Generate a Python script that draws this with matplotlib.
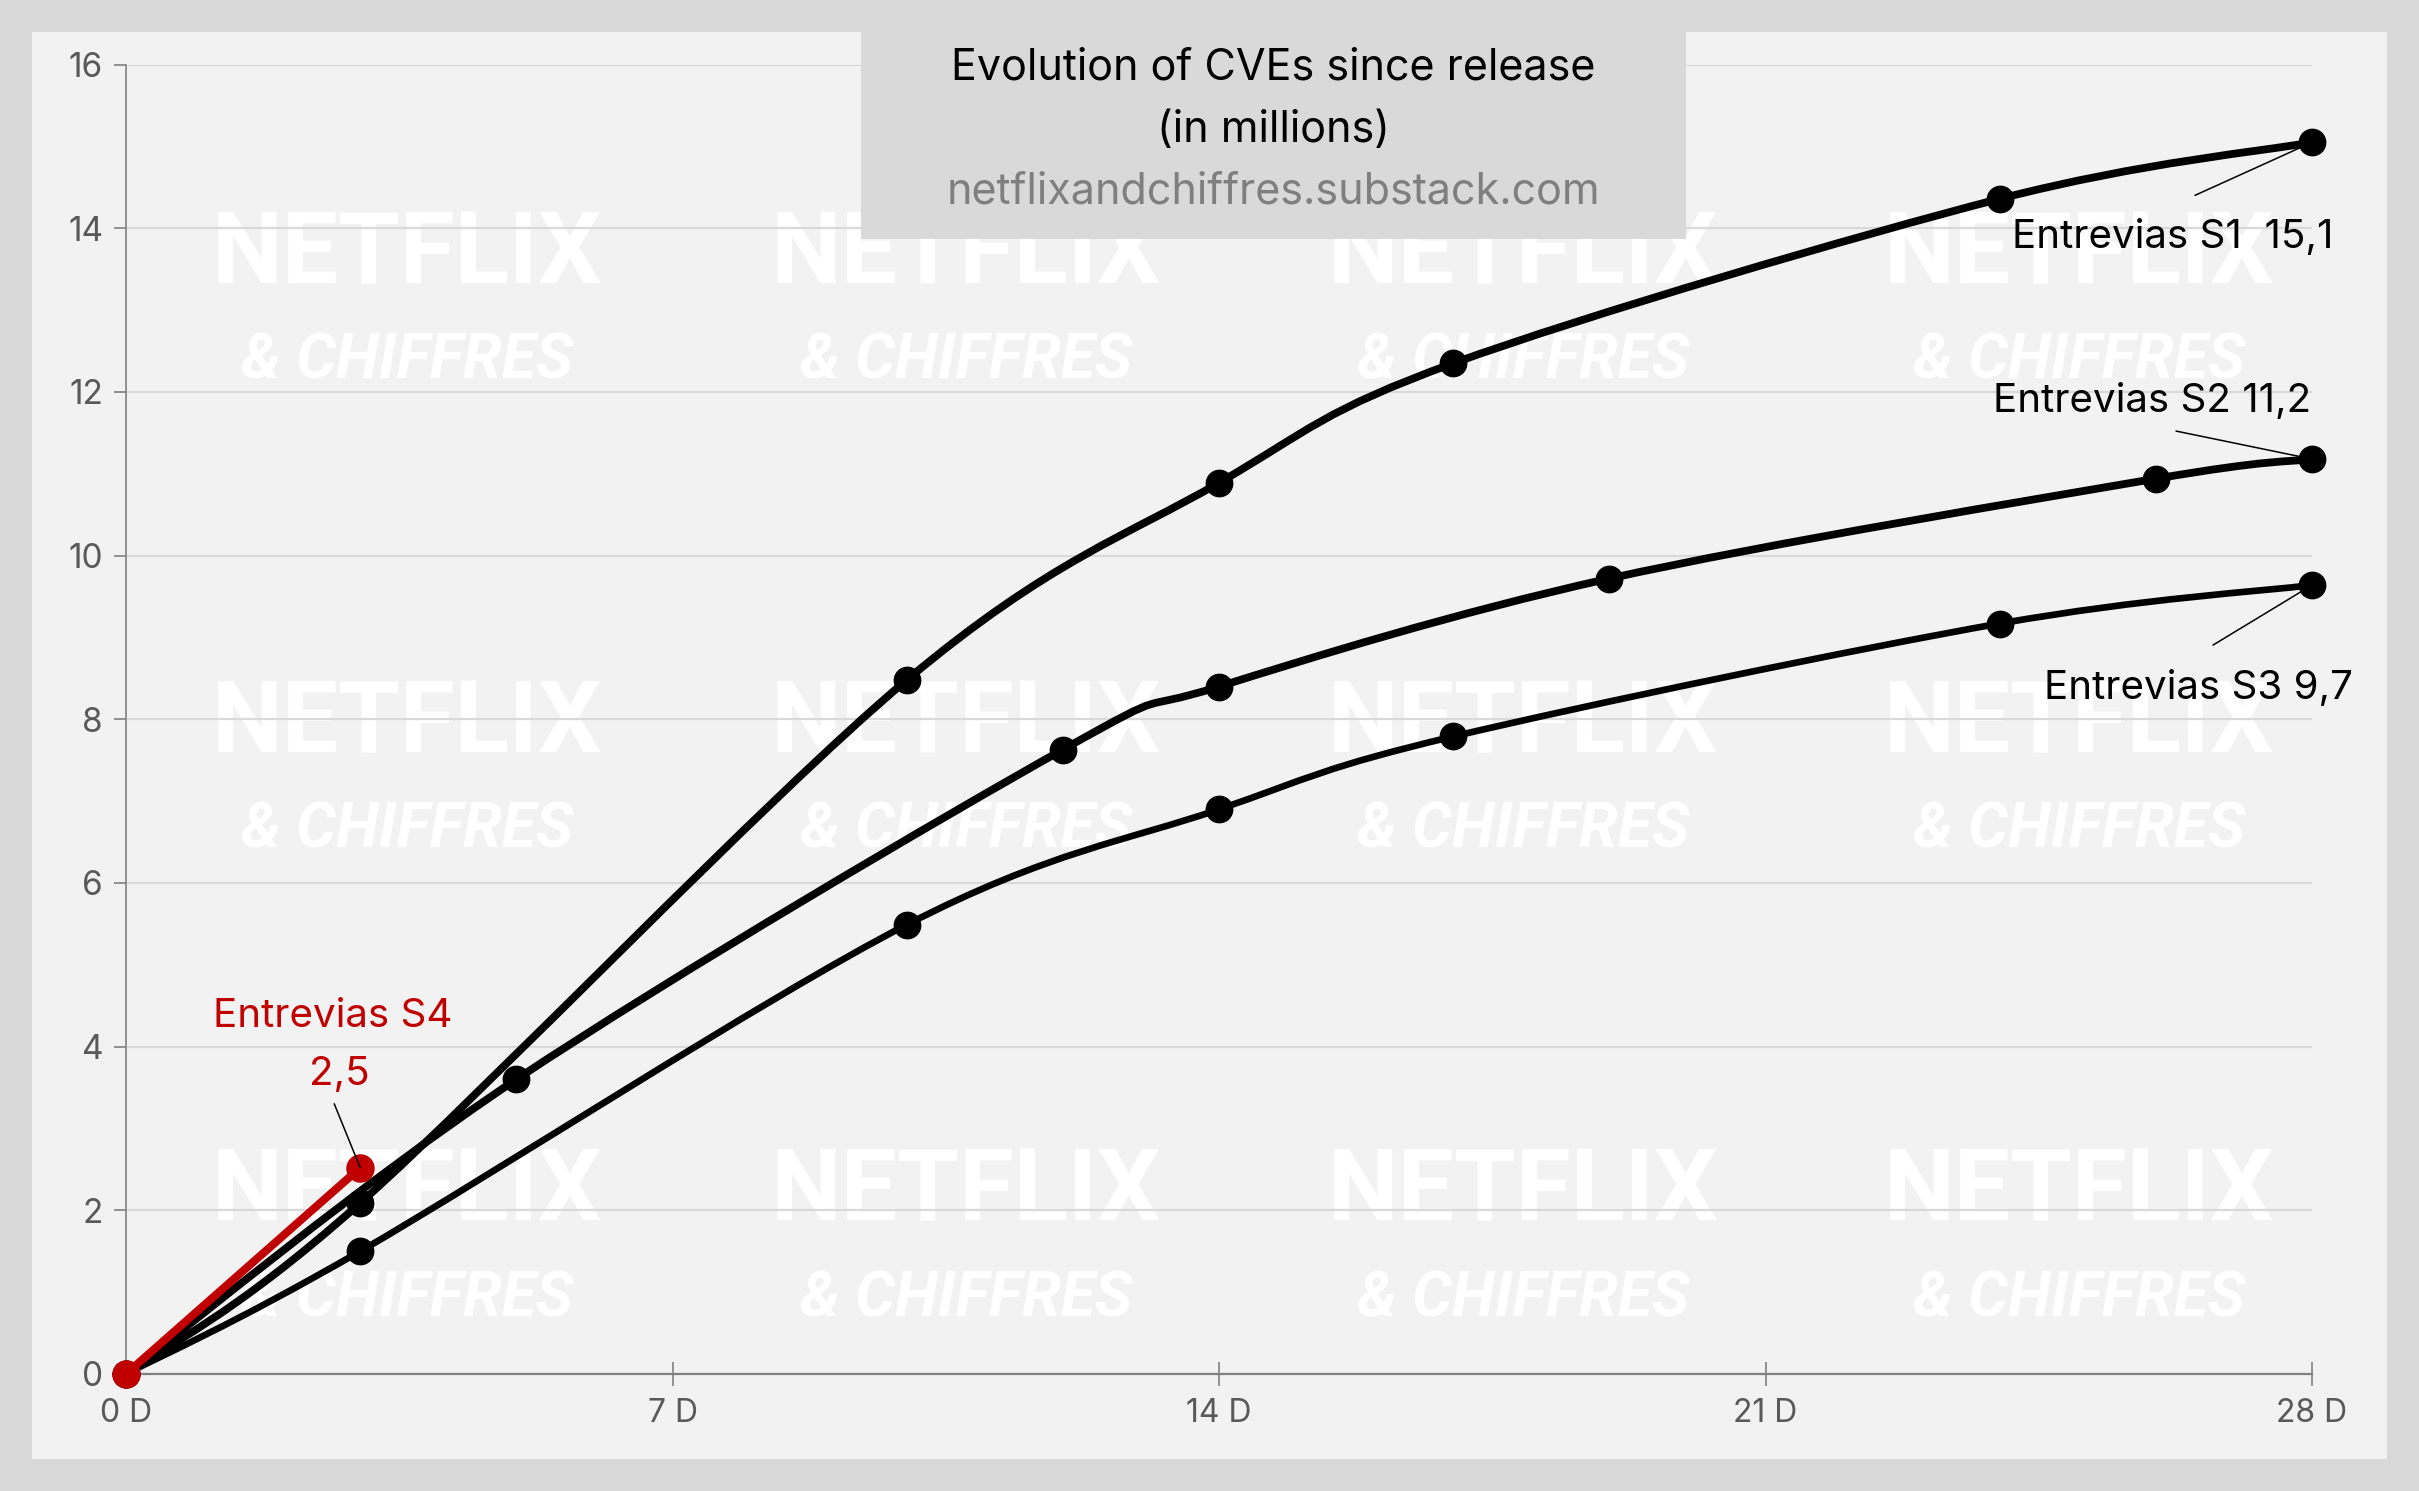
import matplotlib
matplotlib.use("Agg")
import numpy as np
import matplotlib.pyplot as plt
from matplotlib.path import Path
from matplotlib.patches import PathPatch, Rectangle

W, H = 2419, 1491

s1_days = [0, 3, 10, 14, 17, 24, 28]
s1_vals = [0, 2.09, 8.48, 10.89, 12.35, 14.36, 15.05]
s2_days = [0, 5, 12, 14, 19, 26, 28]
s2_vals = [0, 3.6, 7.63, 8.4, 9.72, 10.94, 11.18]
s3_days = [0, 3, 10, 14, 17, 24, 28]
s3_vals = [0, 1.5, 5.49, 6.9, 7.79, 9.17, 9.64]
s4_days = [0, 3]
s4_vals = [0, 2.52]
x_ticks = [0, 7, 14, 21, 28]
x_tick_labels = ["0 D", "7 D", "14 D", "21 D", "28 D"]
y_ticks = [0, 2, 4, 6, 8, 10, 12, 14, 16]

FONT = ["Inter", "DejaVu Sans"]
plt.rcParams["font.family"] = FONT
BG = "#d9d9d9"; PANEL = "#f2f2f2"; RED = "#c00000"

fig = plt.figure(figsize=(W / 100, H / 100), dpi=100, facecolor=BG)
def fx(px): return px / W
def fy(py): return 1 - py / H
def label(px, py, s, size, color="black", ha="center", **kw):
    return fig.text(fx(px), fy(py), s, fontsize=size, color=color, ha=ha, va="baseline", zorder=20, **kw)

fig.add_artist(Rectangle((fx(32), fy(1459)), fx(2387 - 32), (1459 - 32) / H, transform=fig.transFigure,
                         facecolor=PANEL, edgecolor="none", zorder=-10))

ax = fig.add_axes([fx(126), fy(1374), fx(2312 - 126), (1374 - 64.6) / H])
ax.patch.set_alpha(0)
ax.set_xlim(0, 28); ax.set_ylim(0, 16)
for s in ("top", "right"):
    ax.spines[s].set_visible(False)
ax.spines["left"].set_color("#808080"); ax.spines["left"].set_linewidth(1.2)
ax.spines["bottom"].set_color("#808080"); ax.spines["bottom"].set_linewidth(1.6)
ax.set_xticks(x_ticks); ax.set_xticklabels(x_tick_labels)
ax.set_yticks(y_ticks)
ax.tick_params(axis="x", direction="inout", length=17, width=1.2, color="#808080",
               labelsize=23, labelcolor="#595959", pad=9)
ax.tick_params(axis="y", direction="out", length=8.5, width=1.2, color="#808080",
               labelsize=24, labelcolor="#595959", pad=8)
ax.grid(axis="y", color="#d9d9d9", lw=1.6)
ax.set_axisbelow(True)

# watermark
for cx in (407, 966, 1523, 2079):
    for cy, cy2 in ((256, 361), (725, 830), (1193, 1299)):
        fig.text(fx(cx), fy(cy), "NETFLIX", fontsize=72, color="white", fontweight="bold",
                 family=["Liberation Sans Narrow", "Roboto"], ha="center", va="center", zorder=-5)
        fig.text(fx(cx), fy(cy2), "& CHIFFRES", fontsize=45, color="white", fontweight="bold",
                 style="italic", family=["Liberation Sans Narrow", "Roboto"], ha="center", va="center", zorder=-5)

def smooth(days, vals):
    p = np.column_stack([days, vals]).astype(float)
    verts = [p[0]]; codes = [Path.MOVETO]
    for i in range(len(p) - 1):
        p0 = p[max(i - 1, 0)]; p1 = p[i]; p2 = p[i + 1]; p3 = p[min(i + 2, len(p) - 1)]
        verts += [p1 + (p2 - p0) / 6, p2 - (p3 - p1) / 6, p2]
        codes += [Path.CURVE4] * 3
    return Path(verts, codes)

for d, v, lw in ((s1_days, s1_vals, 5.6), (s2_days, s2_vals, 5.6), (s3_days, s3_vals, 4.8)):
    ax.add_patch(PathPatch(smooth(d, v), fill=False, edgecolor="black", lw=lw, zorder=3, clip_on=False, capstyle="round"))
    ax.plot(d, v, ls="none", marker="o", ms=20, mfc="black", mec="black", mew=0, zorder=4, clip_on=False)
ax.plot(s4_days, s4_vals, color=RED, lw=5.8, marker="o", ms=20.5, mew=0, zorder=5, clip_on=False)

# leaders
for d, v, off in ((s1_days[-1], s1_vals[-1], (-117, -53)), (s2_days[-1], s2_vals[-1], (-136, 28)),
                  (s3_days[-1], s3_vals[-1], (-99, -60)), (s4_days[-1], s4_vals[-1], (-26, 64))):
    ax.annotate("", xy=(d, v), xytext=off, textcoords="offset pixels", zorder=6,
                arrowprops=dict(arrowstyle="-", color="black", lw=1.1, shrinkA=0, shrinkB=0))

# labels
label(2012, 248, "Entrevias S1  15,1", 29, ha="left")
label(1993, 412, "Entrevias S2 11,2", 29, ha="left")
label(2044, 699, "Entrevias S3 9,7", 29, ha="left")
label(333, 1027, "Entrevias S4", 29, color=RED)
label(339, 1085, "2,5", 29, color=RED)

# title box
fig.add_artist(Rectangle((fx(861), fy(239)), fx(1686 - 861), (239 - 20) / H, transform=fig.transFigure,
                         facecolor=BG, edgecolor="none", zorder=15))
label(1273, 80, "Evolution of CVEs since release", 31)
label(1273, 142, "(in millions)", 31)
label(1273, 203, "netflixandchiffres.substack.com", 31, color="#7f7f7f")

fig.savefig("out.png", dpi=100, facecolor=BG)
